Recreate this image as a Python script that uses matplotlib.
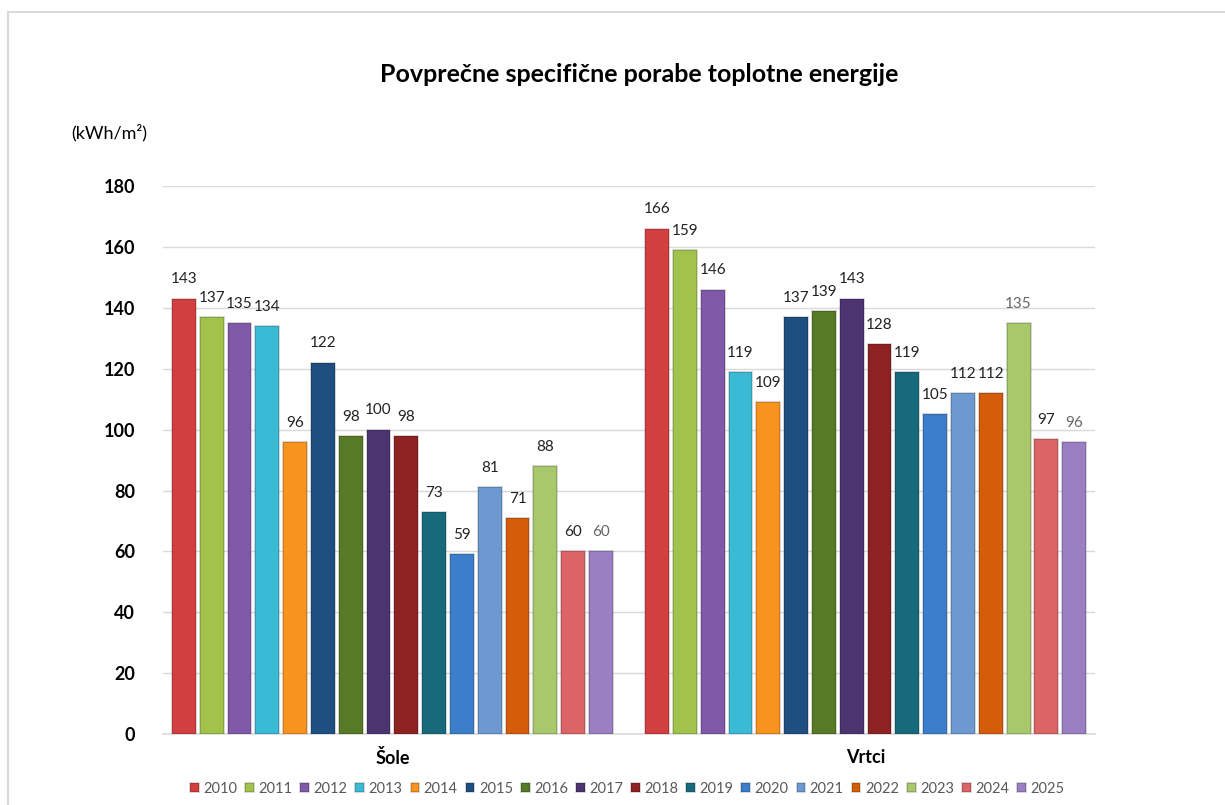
import matplotlib.pyplot as plt
import numpy as np
from matplotlib.patches import Rectangle

# podatki
groups = ["Šole", "Vrtci"]
years = ["2010", "2011", "2012", "2013", "2014", "2015", "2016", "2017",
         "2018", "2019", "2020", "2021", "2022", "2023", "2024", "2025"]
sole = [143, 137, 135, 134, 96, 122, 98, 100, 98, 73, 59, 81, 71, 88, 60, 60]
vrtci = [166, 159, 146, 119, 109, 137, 139, 143, 128, 119, 105, 112, 112, 135, 97, 96]
colors = ["#D23F3F", "#A2C34B", "#8059A8", "#3BBAD6", "#F7931E", "#1F4E80",
          "#577A27", "#4B3470", "#8E2222", "#176A7C", "#3C7ECC", "#6E98D0",
          "#D45C0A", "#A9C86B", "#DC6466", "#9A7FC4"]
# barva oznak (nekatere so sive)
label_colors_sole = ["#222222"] * 15 + ["#666666"]
label_colors_vrtci = ["#222222"] * 13 + ["#666666", "#222222", "#666666"]

plt.rcParams["font.family"] = ["Lato", "DejaVu Sans"]

fig = plt.figure(figsize=(12.25, 8.05), dpi=100)
ax = fig.add_axes([0.133, 0.088, 0.761, 0.681])

# okvir grafa
fig.patches.append(Rectangle((8 / 1225, -0.1), 1.2, 1 - 12 / 805 + 0.1,
                             transform=fig.transFigure, fill=False,
                             edgecolor="#D9D9D9", linewidth=1.5))

n = len(years)
x = np.arange(len(groups))
pitch = 0.94 / n
bw = pitch * 0.86

for i, year in enumerate(years):
    vals = [sole[i], vrtci[i]]
    pos = x - 0.47 + pitch * (i + 0.5)
    bars = ax.bar(pos, vals, bw, color=colors[i], label=year,
                  edgecolor="#00000030", linewidth=1.2, zorder=3)
    for b, v, c in zip(bars, vals, [label_colors_sole[i], label_colors_vrtci[i]]):
        ax.text(b.get_x() + b.get_width() / 2, v + 4, str(v), ha="center",
                va="bottom", fontsize=11, color=c)

ax.set_ylim(0, 180)
ax.set_xlim(-0.485, 1.485)
ax.set_yticks(np.arange(0, 181, 20))
ax.set_xticks(x)
ax.set_xticklabels(groups, fontsize=13, fontweight="bold")
ax.tick_params(axis="y", labelsize=13, length=0, pad=20)
ax.tick_params(axis="x", length=0, pad=11)
for t in ax.get_yticklabels():
    t.set_fontweight("bold")
ax.grid(axis="y", color="#D9D9D9", linewidth=1, zorder=0)
for s in ["top", "right", "left"]:
    ax.spines[s].set_visible(False)
ax.spines["bottom"].set_color("#D9D9D9")
ax.spines["bottom"].set_linewidth(1.2)

fig.text(0.522, 0.907, "Povprečne specifične porabe toplotne energije",
         ha="center", va="center", fontsize=18, fontweight="bold")
fig.text(0.089, 0.835, "(kWh/m²)", ha="center", va="center", fontsize=13)

fig.legend(loc="center", bbox_to_anchor=(0.512, 0.02), ncol=16, frameon=False,
           fontsize=10.5, handlelength=0.6, handleheight=0.6, handletextpad=0.3,
           columnspacing=0.55, labelcolor="#595959")

fig.savefig("out.png", dpi=100)
